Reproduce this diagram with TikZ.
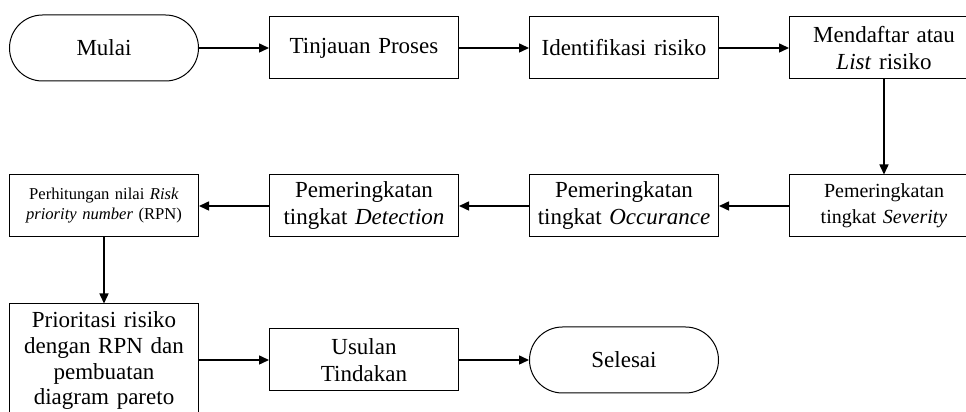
\documentclass[tikz,border=0pt]{standalone}
\usepackage{fontspec}
\setmainfont{Liberation Serif}[ItalicFont={Liberation Serif Italic}]
\usetikzlibrary{positioning,arrows.meta}

\tikzset{
    proses/.style={draw, line width=0.5pt, minimum width=94.5pt, minimum height=31pt,
        text width=92pt, align=center, inner sep=1pt, font=\fontsize{11.5}{13.5}\selectfont},
    terminal/.style={proses, rounded corners=16.5pt, minimum height=33pt},
    alur/.style={-{Triangle[length=5pt,width=4.5pt]}, line width=0.75pt},
}

\begin{document}
\begin{tikzpicture}[node distance=35pt]
    \useasboundingbox (0,0) rectangle (483pt,206pt);
    \clip (0,0) rectangle (483pt,206pt);
    % baris atas
    \node [terminal] (mulai) at (52pt,182pt) {Mulai};
    \node [proses, right=of mulai] (tinjauan) {Tinjauan Proses};
    \node [proses, right=of tinjauan] (identifikasi) {Identifikasi risiko};
    \node [proses, right=of identifikasi] (daftar) {Mendaftar atau\\ \textit{List} risiko};
    % baris tengah
    \node [proses, below=47.5pt of daftar, font=\fontsize{10}{13}\selectfont] (severity) {Pemeringkatan\\ tingkat \textit{Severity}};
    \node [proses, left=of severity] (occurance) {Pemeringkatan\\ tingkat \textit{Occurance}};
    \node [proses, left=of occurance] (detection) {Pemeringkatan\\ tingkat \textit{Detection}};
    \node [proses, left=of detection, font=\fontsize{8.3}{10}\selectfont] (rpn) {Perhitungan nilai \textit{Risk}\\ \textit{priority number} (RPN)};
    % baris bawah
    \node [proses, below=33pt of rpn, inner ysep=4pt, font=\fontsize{11.5}{12.8}\selectfont] (prioritas) {Prioritasi risiko\\ dengan RPN dan\\ pembuatan\\ diagram pareto};
    \node [proses, below=45.5pt of detection] (usulan) {Usulan\\ Tindakan};
    \node [terminal, right=of usulan] (selesai) {Selesai};

    \draw [alur] (mulai) -- (tinjauan);
    \draw [alur] (tinjauan) -- (identifikasi);
    \draw [alur] (identifikasi) -- (daftar);
    \draw [alur] (daftar) -- (severity);
    \draw [alur] (severity) -- (occurance);
    \draw [alur] (occurance) -- (detection);
    \draw [alur] (detection) -- (rpn);
    \draw [alur] (rpn) -- (prioritas);
    \draw [alur] (prioritas.east |- usulan.west) -- (usulan.west);
    \draw [alur] (usulan) -- (selesai);
\end{tikzpicture}
\end{document}
